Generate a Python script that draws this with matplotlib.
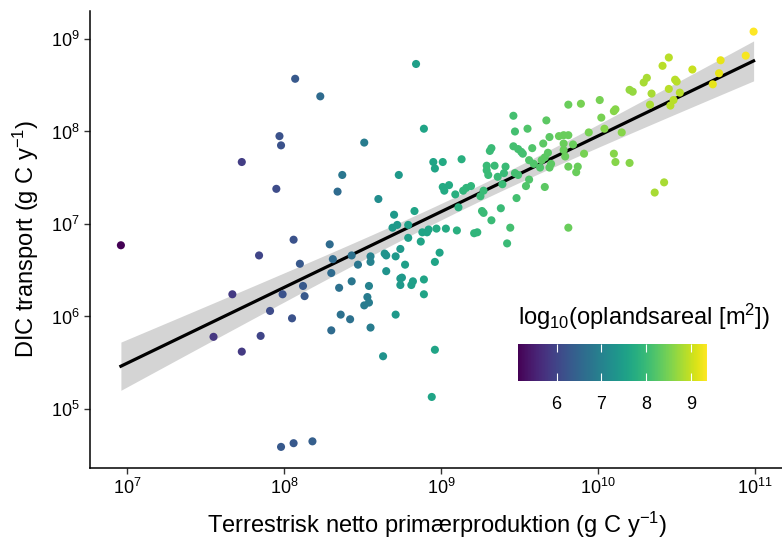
import numpy as np
import matplotlib
matplotlib.use('Agg')
import matplotlib.pyplot as plt
from matplotlib.ticker import LogLocator, NullLocator, LogFormatterMathtext

plt.rcParams['font.family'] = ['Liberation Sans', 'DejaVu Sans']
plt.rcParams['mathtext.fontset'] = 'custom'
plt.rcParams['mathtext.rm'] = 'Liberation Sans'
plt.rcParams['mathtext.it'] = 'Liberation Sans:italic'
plt.rcParams['mathtext.default'] = 'regular'

# ---------- data (log10 values) ----------
# log10 terrestrisk NPP (g C/y)
log_npp = [6.96, 7.55, 7.67, 7.73, 7.73, 7.84, 7.85, 7.91, 7.95, 7.97,
           7.98, 7.99, 8.05, 8.06, 8.07, 8.10, 8.12, 8.13, 7.98, 8.06,
           8.18, 8.23, 8.29, 8.30, 8.30, 8.31, 8.34, 8.35, 8.37, 8.36,
           8.42, 8.43, 8.43, 8.47, 8.51, 8.51, 8.53, 8.54, 8.54, 8.55,
           8.55, 8.55, 8.60, 8.63, 8.64, 8.65, 8.65, 8.69, 8.70, 8.71,
           8.71, 8.72, 8.73, 8.74, 8.74, 8.75, 8.74, 8.77, 8.79, 8.79,
           8.82, 8.81, 8.83, 8.84, 8.87, 8.88, 8.89, 8.89, 8.89, 8.91,
           8.92, 8.94, 8.95, 8.96, 8.96, 8.96, 8.97, 8.99, 9.01, 9.03,
           9.01, 9.02, 9.05, 9.09, 9.10, 9.11, 9.13, 9.14, 9.16, 9.19,
           9.21, 9.23, 9.25, 9.27, 9.26, 9.27, 9.29, 9.29, 9.30, 9.32,
           9.31, 9.32, 9.34, 9.36, 9.38, 9.39, 9.41, 9.40, 9.42, 9.44,
           9.46, 9.47, 9.46, 9.49, 9.51, 9.52, 9.47, 9.49, 9.48, 9.55,
           9.56, 9.59, 9.63, 9.56, 9.54, 9.58, 9.65, 9.66, 9.67, 9.69,
           9.68, 9.66, 9.64, 9.70, 9.69, 9.75, 9.78, 9.81, 9.78, 9.84,
           9.78, 9.79, 9.81, 9.81, 9.81, 9.87, 9.86, 9.89, 9.91, 9.94,
           10.01, 10.02, 10.04, 10.10, 10.11, 10.11, 10.10, 10.15, 10.20, 10.20,
           10.22, 10.29, 10.31, 10.33, 10.34, 10.36, 10.42, 10.41, 10.45, 10.45,
           10.46, 10.48, 10.49, 10.50, 10.52, 10.60, 10.73, 10.77, 10.78, 10.94,
           10.99]

# log10 DIC transport (g C/y)
log_dic = [6.77, 5.78, 6.24, 5.62, 7.67, 6.66, 5.79, 6.06, 7.38, 7.95,
           7.85, 6.24, 5.98, 6.83, 8.57, 6.57, 6.33, 6.22, 4.59, 4.63,
           4.65, 8.38, 6.78, 6.47, 5.85, 6.62, 7.35, 6.31, 7.53, 6.02,
           5.97, 6.66, 6.38, 6.56, 7.88, 6.12, 6.21, 6.15, 6.33, 5.88,
           6.65, 6.59, 7.27, 5.57, 6.68, 6.66, 6.49, 6.96, 7.10, 6.65,
           6.02, 6.99, 7.53, 6.73, 6.41, 6.42, 6.34, 6.56, 6.99, 6.85,
           6.38, 6.34, 7.14, 8.73, 6.81, 6.91, 6.40, 6.24, 8.03, 6.91,
           6.94, 5.13, 7.67, 7.60, 6.59, 5.64, 6.95, 6.69, 7.67, 6.95,
           7.40, 7.36, 7.42, 7.32, 6.93, 7.18, 7.70, 7.36, 7.39, 7.41,
           6.90, 6.91, 7.30, 7.36, 7.14, 7.12, 7.63, 7.58, 7.53, 7.82,
           7.79, 7.04, 7.63, 7.51, 7.17, 7.43, 7.62, 7.55, 6.79, 6.96,
           8.17, 8.00, 7.84, 7.81, 7.78, 7.76, 7.55, 7.53, 7.28, 8.03,
           7.69, 7.65, 7.61, 7.48, 7.41, 7.82, 7.87, 7.40, 8.12, 7.94,
           7.77, 7.72, 7.69, 7.65, 7.61, 7.95, 7.96, 7.96, 7.87, 7.86,
           7.80, 7.73, 7.62, 8.29, 6.96, 7.62, 7.56, 8.30, 7.76, 7.99,
           8.34, 8.15, 8.03, 7.76, 7.67, 8.24, 8.22, 7.99, 7.66, 8.45,
           8.43, 8.53, 8.58, 8.29, 8.41, 7.34, 7.45, 8.71, 8.80, 8.46,
           8.28, 8.34, 8.56, 8.54, 8.42, 8.67, 8.51, 8.63, 8.77, 8.82,
           9.08]

# log10 oplandsareal (m2)
log_area = [5.14, 5.80, 5.85, 5.85, 5.90, 6.00, 6.00, 6.10, 6.10, 6.20,
            6.20, 6.20, 6.20, 6.20, 6.30, 6.30, 6.30, 6.30, 6.30, 6.30,
            6.40, 6.60, 6.60, 6.60, 6.60, 6.60, 6.60, 6.70, 6.80, 6.70,
            6.70, 6.70, 6.80, 6.80, 6.90, 6.90, 6.90, 6.90, 7.00, 6.90,
            7.00, 7.00, 7.20, 7.30, 7.30, 7.30, 7.30, 7.40, 7.40, 7.40,
            7.40, 7.40, 7.40, 7.40, 7.40, 7.40, 7.40, 7.50, 7.50, 7.50,
            7.50, 7.50, 7.60, 7.50, 7.60, 7.60, 7.60, 7.60, 7.60, 7.60,
            7.60, 7.60, 7.60, 7.60, 7.60, 7.60, 7.70, 7.60, 7.70, 7.70,
            7.70, 7.70, 7.70, 7.80, 7.80, 7.80, 7.80, 7.90, 7.90, 7.90,
            7.90, 7.90, 8.00, 8.00, 8.00, 8.00, 8.00, 8.00, 8.00, 8.00,
            8.00, 8.00, 8.00, 8.00, 8.00, 8.00, 8.00, 8.00, 8.00, 8.10,
            8.10, 8.10, 8.10, 8.10, 8.10, 8.10, 8.10, 8.10, 8.10, 8.20,
            8.20, 8.20, 8.20, 8.20, 8.20, 8.20, 8.30, 8.30, 8.30, 8.30,
            8.30, 8.30, 8.30, 8.30, 8.30, 8.40, 8.40, 8.40, 8.40, 8.40,
            8.40, 8.40, 8.40, 8.40, 8.40, 8.40, 8.40, 8.50, 8.50, 8.50,
            8.50, 8.50, 8.60, 8.60, 8.60, 8.60, 8.60, 8.60, 8.60, 8.70,
            8.70, 8.80, 8.80, 8.80, 8.80, 8.80, 8.80, 8.90, 8.90, 8.90,
            8.90, 8.90, 8.90, 8.90, 8.90, 9.00, 9.20, 9.20, 9.20, 9.30,
            9.36]

lx = np.array(log_npp)
ly = np.array(log_dic)
c = np.array(log_area)

# lineær regression i log-log med 95% konfidensbånd
n = len(lx)
b, a = np.polyfit(lx, ly, 1)
res = ly - (a + b*lx)
s = np.sqrt(np.sum(res**2)/(n-2))
xm = lx.mean()
sxx = np.sum((lx-xm)**2)
xg = np.linspace(lx.min(), lx.max(), 200)
yg = a + b*xg
se = s*np.sqrt(1/n + (xg-xm)**2/sxx)
t = 1.973

fig = plt.figure(figsize=(7.82, 5.42), dpi=100)
ax = fig.add_axes([89.5/782, 1-467.7/542, (785-89.5)/782, (467.7-10.7)/542])

ax.fill_between(10**xg, 10**(yg-t*se), 10**(yg+t*se), color='#d4d4d4', lw=0, zorder=1)
ax.plot(10**xg, 10**yg, color='black', lw=2.3, zorder=2)
sc = ax.scatter(10**lx, 10**ly, c=c, cmap='viridis', vmin=5.14, vmax=9.36,
                s=34, linewidths=0, zorder=3)

ax.set_xscale('log')
ax.set_yscale('log')
ax.set_xlim(10**6.76, 10**11.19)
ax.set_ylim(10**4.365, 10**9.306)
ax.xaxis.set_major_locator(LogLocator(base=10, numticks=10))
ax.yaxis.set_major_locator(LogLocator(base=10, numticks=10))
ax.xaxis.set_minor_locator(NullLocator())
ax.yaxis.set_minor_locator(NullLocator())
ax.xaxis.set_major_formatter(LogFormatterMathtext())
ax.yaxis.set_major_formatter(LogFormatterMathtext())

for sp in ['top', 'right']:
    ax.spines[sp].set_visible(False)
for sp in ['left', 'bottom']:
    ax.spines[sp].set_linewidth(1.1)
ax.tick_params(length=4, width=1, color='#333333', labelsize=13, labelcolor='black', pad=3)

ax.set_xlabel(r'Terrestrisk netto primærproduktion (g C y$^{-1}$)', fontsize=17, labelpad=9)
ax.set_ylabel(r'DIC transport (g C y$^{-1}$)', fontsize=17, labelpad=7)

# farveskala inde i plottet
cax = fig.add_axes([518/782, 1-381/542, (707-518)/782, (381-344)/542])
cb = fig.colorbar(sc, cax=cax, orientation='horizontal', ticks=[6, 7, 8, 9])
cb.outline.set_visible(False)
cax.tick_params(direction='in', color='white', length=6, width=0.8, top=True, bottom=True,
                labelsize=13, pad=11)
fig.text(518/782, 1-317/542, r'log$_{10}$(oplandsareal [m$^2$])', fontsize=17,
         ha='left', va='center')

plt.savefig('out.png', dpi=100)
plt.close()
